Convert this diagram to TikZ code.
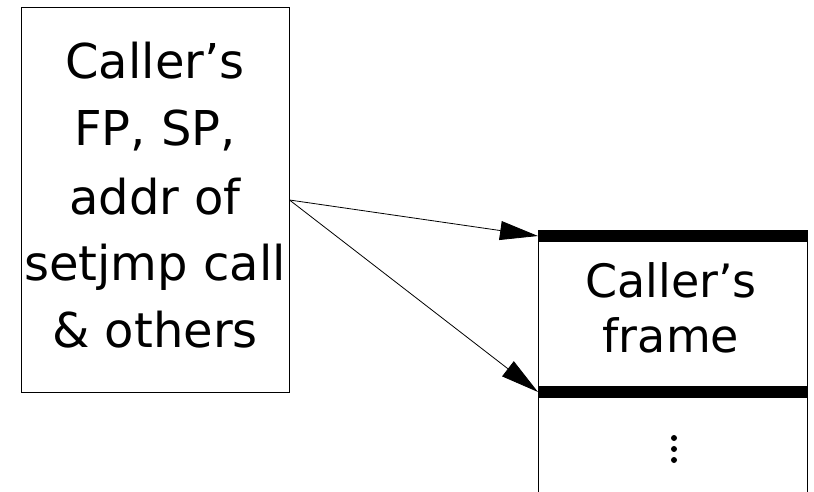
\documentclass[tikz,border=0pt]{standalone}
\usepackage{fontspec}
\setmainfont{DejaVu Sans}
\usetikzlibrary{arrows.meta}
\begin{document}
\begin{tikzpicture}[x=1pt,y=-1pt,
  lefttxt/.style={anchor=base, inner sep=0pt, font=\fontsize{48}{58}\selectfont},
  righttxt/.style={anchor=base, inner sep=0pt, font=\fontsize{46}{56}\selectfont},
  bar/.style={fill=black, draw=none, minimum width=270pt, minimum height=12pt, inner sep=0pt, outer sep=0pt},
  arr/.style={-{Triangle[length=38pt,width=19pt]}, line width=0.8pt},
  frameline/.style={line width=1.2pt}]
\useasboundingbox (0,0) rectangle (814,492);
\fill[white] (0,0) rectangle (814,492);
% left box
\node[draw, line width=1pt, minimum width=268pt, minimum height=384pt, inner sep=0pt] (box) at (155,200) {};
\node[lefttxt] (l1) at (155,79) {Caller's};
\node[lefttxt] (l2) at (155,146) {FP, SP,};
\node[lefttxt] (l3) at (155,214) {addr of};
\node[lefttxt] (l4) at (155,280) {setjmp call};
\node[lefttxt] (l5) at (155,347) {\& others};
% right frame
\node[bar] (bar1) at (673,236) {};
\node[bar] (bar2) at (673,392) {};
\coordinate (bl) at (538.5,492);
\coordinate (br) at (807.5,492);
\draw[frameline] ([xshift=0.5pt]bar1.north west) -- (bl);
\draw[frameline] ([xshift=-0.5pt]bar1.north east) -- (br);
\node[righttxt] (r1) at (671,297) {Caller's};
\node[righttxt] (r2) at (671,352) {frame};
\fill (674,438) circle (3pt);
\fill (674,449) circle (3pt);
\fill (674,460) circle (3pt);
% arrows
\draw[arr] (box.east) -- (bar1.west);
\draw[arr] (box.east) -- (bar2.west);
\end{tikzpicture}
\end{document}
